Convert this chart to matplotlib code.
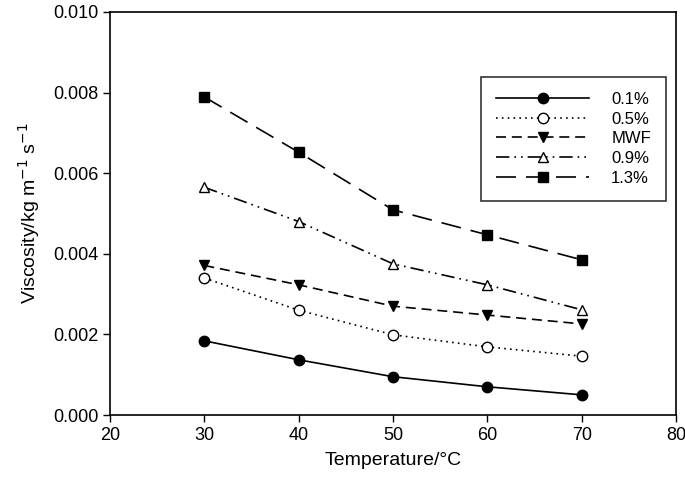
import matplotlib.pyplot as plt

plt.rcParams['font.family'] = ['Liberation Sans', 'DejaVu Sans']

# Temperature (deg C) and viscosity (kg m-1 s-1) per concentration
temps = [30, 40, 50, 60, 70]
visc_01 = [0.00184, 0.00137, 0.00095, 0.00070, 0.00050]
visc_05 = [0.00340, 0.00260, 0.00199, 0.00169, 0.00146]
visc_mwf = [0.00371, 0.00323, 0.00270, 0.00248, 0.00226]
visc_09 = [0.00565, 0.00480, 0.00375, 0.00323, 0.00261]
visc_13 = [0.00789, 0.00652, 0.00509, 0.00447, 0.00385]

fig = plt.figure(figsize=(6.85, 4.79), dpi=100)
ax = fig.add_axes([0.1606, 0.1336, 0.8264, 0.8414])

ax.plot(temps, visc_01, color='black', lw=1.2, linestyle='-', marker='o',
        markersize=7.5, markerfacecolor='black', label='0.1%')
ax.plot(temps, visc_05, color='black', lw=1.2, linestyle=(0, (1, 2.5)), marker='o',
        markersize=7.5, markerfacecolor='white', label='0.5%')
ax.plot(temps, visc_mwf, color='black', lw=1.2, linestyle=(0, (6, 3.5)), marker='v',
        markersize=7.5, markerfacecolor='black', label='MWF')
ax.plot(temps, visc_09, color='black', lw=1.2, linestyle=(0, (8, 3, 1, 3, 1, 3)), marker='^',
        markersize=7.5, markerfacecolor='white', label='0.9%')
ax.plot(temps, visc_13, color='black', lw=1.2, linestyle=(0, (12, 6)), marker='s',
        markersize=7, markerfacecolor='black', label='1.3%')

ax.set_xlim(20, 80)
ax.set_ylim(0, 0.010)
ax.set_xticks([20, 30, 40, 50, 60, 70, 80])
ax.set_yticks([0.000, 0.002, 0.004, 0.006, 0.008, 0.010])
ax.set_yticklabels(['0.000', '0.002', '0.004', '0.006', '0.008', '0.010'])
ax.tick_params(direction='out', length=5, width=1, labelsize=13, colors='black')
for sp in ax.spines.values():
    sp.set_linewidth(1.2)

ax.set_xlabel('Temperature/°C', fontsize=14, labelpad=6)
ax.set_ylabel('Viscosity/kg m$^{-1}$ s$^{-1}$', fontsize=14, labelpad=8)

leg = ax.legend(loc='upper right', bbox_to_anchor=(0.982, 0.839), borderaxespad=0,
                frameon=True, fancybox=False, edgecolor='black', fontsize=12,
                handlelength=5.6, markerfirst=True, borderpad=0.9,
                labelspacing=0.28, handletextpad=1.3)
leg.get_frame().set_linewidth(1.2)

plt.savefig('out.png', dpi=100)
